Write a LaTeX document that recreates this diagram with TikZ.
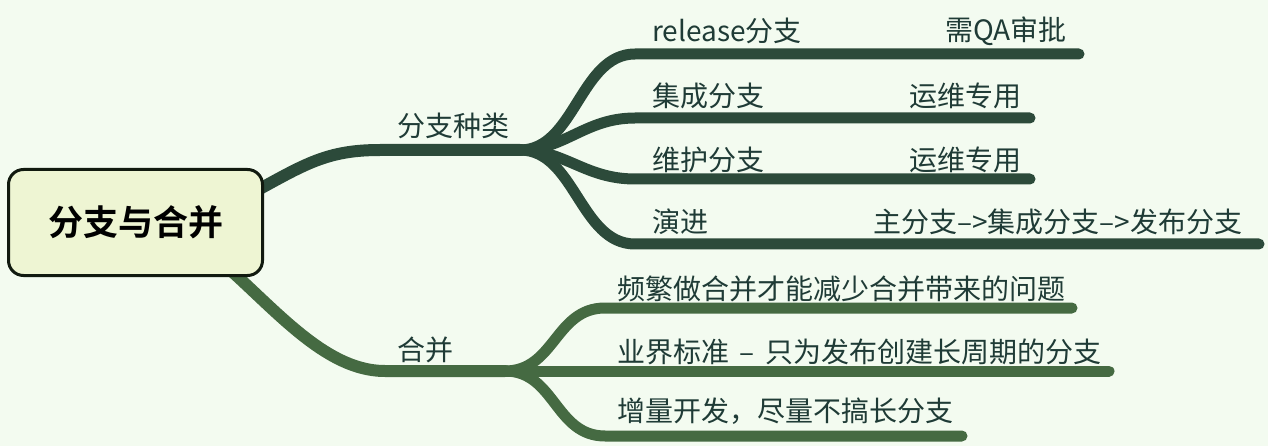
\documentclass[tikz,border=0pt]{standalone}
\usepackage{fontspec}
\setmainfont{Noto Sans CJK SC}[BoldFont={Noto Sans CJK SC Bold}]
\definecolor{bg}{HTML}{F3FBF0}
\definecolor{bA}{HTML}{2C4A3A}
\definecolor{bB}{HTML}{456A42}
\definecolor{txt}{HTML}{1F3B36}
\definecolor{rootfill}{HTML}{EEF5D3}
\definecolor{rootline}{HTML}{111A0F}
\begin{document}
\begin{tikzpicture}[x=1pt,y=-1pt,
  mainA/.style={line width=12pt, draw=bA, line cap=round},
  subA/.style={line width=11pt, draw=bA, line cap=round},
  mainB/.style={line width=12pt, draw=bB, line cap=round},
  subB/.style={line width=11pt, draw=bB, line cap=round},
  lbl/.style={anchor=west, inner sep=0pt, text=txt, font=\fontsize{28}{32}\selectfont},
  rootbox/.style={draw=rootline, fill=rootfill, line width=3pt, rounded corners=15pt,
    minimum width=254pt, minimum height=106pt, inner sep=0pt,
    font=\fontsize{35}{40}\selectfont\bfseries, text=black}]
\fill[bg] (0,0) rectangle (1268,446);
\useasboundingbox (0,0) rectangle (1268,446);
% hubs and ends
\coordinate (rc) at (135.5,222.5);
\coordinate (sA) at (230,205);
\coordinate (sB) at (207,250);
\coordinate (hA) at (520,150);
\coordinate (hB) at (505,371);
\coordinate (eRel) at (1079,54);
\coordinate (eJi) at (1030,118);
\coordinate (eWei) at (1030,179);
\coordinate (eYan) at (1259,244);
\coordinate (ePin) at (1072,308);
\coordinate (eYe) at (1109,371);
\coordinate (eZeng) at (962,436);
% main branches
\draw[mainA] (sA) .. controls (300,168) and (320,150) .. (380,150) -- (hA);
\draw[mainB] (sB) .. controls (267,298) and (320,371) .. (385,371) -- (hB);
% sub branches A
\draw[subA] (hA) .. controls (575,150) and (580,54) .. (635,54) -- (eRel);
\draw[subA] (hA) .. controls (565,150) and (585,118) .. (635,118) -- (eJi);
\draw[subA] (hA) .. controls (565,150) and (585,179) .. (635,179) -- (eWei);
\draw[subA] (hA) .. controls (575,150) and (580,244) .. (635,244) -- (eYan);
% sub branches B
\draw[subB] (hB) .. controls (555,371) and (555,308) .. (605,308) -- (ePin);
\draw[subB] (hB) -- (eYe);
\draw[subB] (hB) .. controls (555,371) and (555,436) .. (605,436) -- (eZeng);
% root
\node[rootbox] (root) at (rc) {分支与合并};
% labels
\node[lbl] (lA) at (397,126) {分支种类};
\node[lbl] (lB) at (397,350) {合并};
\node[lbl] (l1) at (652,31) {release分支};
\node[lbl] (l1n) at (945,31) {需QA审批};
\node[lbl] (l2) at (652,96) {集成分支};
\node[lbl] (l2n) at (909,96) {运维专用};
\node[lbl] (l3) at (652,160) {维护分支};
\node[lbl] (l3n) at (909,160) {运维专用};
\node[lbl] (l4) at (652,222) {演进};
\node[lbl] (l4n) at (873,222) {主分支–>集成分支–>发布分支};
\node[lbl] (m1) at (617,289) {频繁做合并才能减少合并带来的问题};
\node[lbl] (m2) at (617,352) {业界标准\hspace{0.38em}–\hspace{0.38em}只为发布创建长周期的分支};
\node[lbl] (m3) at (617,411) {增量开发，尽量不搞长分支};
\end{tikzpicture}
\end{document}
